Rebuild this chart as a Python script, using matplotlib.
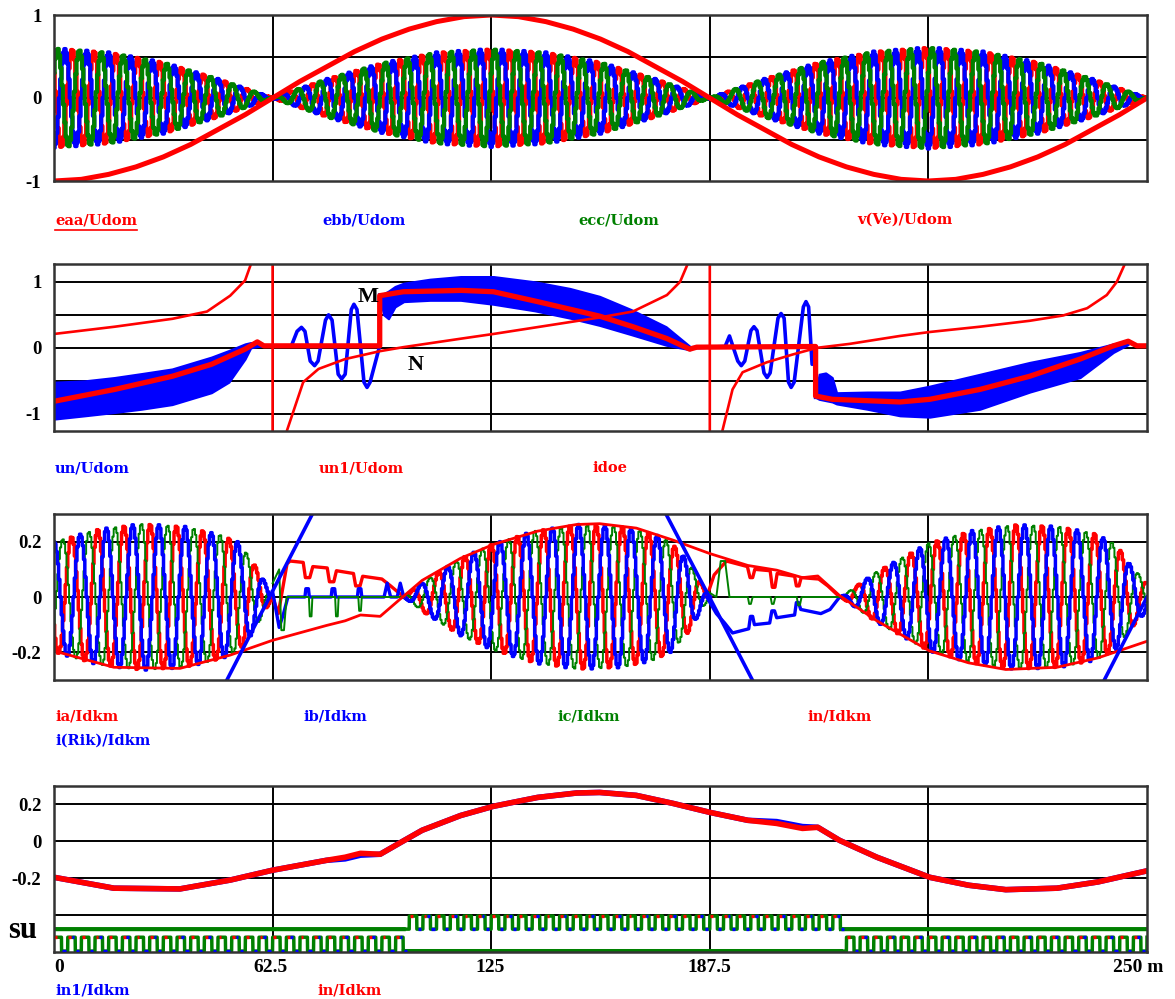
import numpy as np
import matplotlib
matplotlib.use('Agg')
import matplotlib.pyplot as plt

W, H = 1175, 999
RED, BLUE, GREEN = '#ff0000', '#0000ff', '#008000'
SERIF = 'Liberation Serif'
LAB = 'DejaVu Serif'

# ---------- panel 1 : eaa, ebb, ecc, v(Ve) ----------
t_v = [0, 6.25, 12.5, 18.75, 25, 31.25, 37.5, 43.75, 50, 56.25, 62.5, 68.75, 75, 81.25,
       87.5, 93.75, 100, 106.25, 112.5, 118.75, 125, 131.25, 137.5, 143.75, 150,
       156.25, 162.5, 168.75, 175, 181.25, 187.5, 193.75, 200, 206.25, 212.5, 218.75,
       225, 231.25, 237.5, 243.75, 250]
v_ve = [-1.0, -0.98, -0.92, -0.83, -0.71, -0.56, -0.38, -0.2, 0.0, 0.2, 0.38, 0.56, 0.71,
        0.83, 0.92, 0.98, 1.0, 0.98, 0.92, 0.83, 0.71, 0.56, 0.38, 0.2, 0.0, -0.2, -0.38,
        -0.56, -0.71, -0.83, -0.92, -0.98, -1.0, -0.98, -0.92, -0.83, -0.71, -0.56, -0.38,
        -0.2, 0.0]
t_env = [0, 12.5, 25, 37.5, 50, 62.5, 75, 87.5, 100, 112.5, 125, 137.5, 150,
         162.5, 175, 187.5, 200, 212.5, 225, 237.5, 250]
env_e = [0.6, 0.55, 0.43, 0.23, 0.0, 0.23, 0.42, 0.55, 0.59, 0.55, 0.43, 0.23, 0.0,
         0.23, 0.43, 0.56, 0.61, 0.56, 0.43, 0.23, 0.0]
period_e = 5.0          # ms, carrier of eaa/ebb/ecc
phase_e = {'a': 150, 'b': 270, 'c': 30}

# ---------- panel 2 : un, un1, idoe ----------
t_un1 = [0, 13.9, 27.1, 36.0, 43.7, 46.5, 48.0, 74.5, 74.5, 79.9, 93.2, 100.5, 110.6,
         124.8, 132.4, 140.2, 145.4, 147.0, 174.2, 174.2, 178.0, 193.5, 200.3, 211.8,
         223.2, 234.7, 242.3, 245.7, 247.7, 250]
un1 = [-0.81, -0.63, -0.43, -0.25, -0.02, 0.09, 0.03, 0.03, 0.79, 0.85, 0.87, 0.85, 0.7,
       0.48, 0.32, 0.14, -0.02, 0.01, 0.02, -0.73, -0.78, -0.82, -0.78, -0.63,
       -0.43, -0.17, 0.03, 0.1, 0.03, 0.03]

t_idoe = [0, 13.9, 27.1, 35.0, 40.3, 43.7, 45.1, 47.0, 50.0, 50.0, 52.0, 53.3, 57.0,
          60.5, 66.6, 74.6, 79.9, 93.2, 100.5, 124.8, 132.4, 140.2, 143.2, 145.0,
          147.0, 150.0, 150.0, 152.0, 152.9, 155.2, 157.5, 163.0, 169.0, 174.5,
          182.0, 193.5, 200.3, 211.8, 223.2, 230.8, 236.3, 240.8, 243.1, 245.0,
          247.0, 250.0]
idoe = [0.21, 0.32, 0.44, 0.55, 0.79, 1.02, 1.28, 2.5, 40, -40, -2.5, -1.25, -0.52,
        -0.32, -0.17, -0.05, 0.01, 0.14, 0.21, 0.46, 0.55, 0.8, 1.0, 1.28,
        2.5, 40, -40, -2.5, -1.25, -0.63, -0.37, -0.22, -0.1, 0.0,
        0.06, 0.18, 0.24, 0.32, 0.41, 0.49, 0.6, 0.8, 1.0, 1.28,
        2.5, 5]

# un ripple band envelopes and the oscillating parts
t_b1 = [0, 7, 13.8, 20, 27, 36, 40, 43.7, 45, 47.5]
up_b1 = [-0.52, -0.5, -0.45, -0.39, -0.32, -0.14, -0.04, 0.06, 0.08, 0.06]
lo_b1 = [-1.08, -1.03, -0.98, -0.93, -0.86, -0.68, -0.52, -0.17, 0.0, 0.03]
t_b3 = [74.5, 75.4, 76.5, 78, 80, 86, 93, 100.5, 110, 118, 124.8, 132, 140, 145.5]
up_b3 = [0.8, 0.82, 0.86, 0.93, 0.98, 1.04, 1.08, 1.08, 1.0, 0.9, 0.78, 0.58, 0.32, 0.02]
lo_b3 = [0.75, 0.5, 0.44, 0.62, 0.7, 0.72, 0.72, 0.66, 0.56, 0.45, 0.34, 0.2, 0.04, -0.03]
t_b5 = [174.2, 175.0, 176.5, 178.0, 179, 186, 193.5, 200.3, 211.8, 223.2, 234.7, 242.3, 245.7]
up_b5 = [-0.7, -0.4, -0.38, -0.45, -0.68, -0.67, -0.67, -0.58, -0.4, -0.22, -0.07, 0.06, 0.1]
lo_b5 = [-0.75, -0.78, -0.8, -0.82, -0.85, -0.93, -1.03, -1.05, -0.93, -0.67, -0.45, -0.07, 0.05]
t_osc2 = [47.5, 54.3, 55.6, 56.6, 57.4, 58.6, 59.6, 60.4, 62.1, 62.8, 63.6, 65.0, 65.8,
          66.6, 68.0, 68.6, 69.3, 70.9, 71.6, 72.3, 74.5, 74.5]
osc2 = [0.03, 0.03, 0.25, 0.31, 0.25, -0.2, -0.27, -0.2, 0.42, 0.5, 0.42, -0.4, -0.47,
        -0.4, 0.58, 0.66, 0.58, -0.52, -0.6, -0.52, 0.03, 0.8]
t_osc4 = [145.5, 153.5, 154.5, 156.4, 157.2, 158.0, 159.4, 160.1, 160.8, 162.4, 163.1,
          163.8, 165.6, 166.3, 167.0, 168.0, 168.6, 169.3, 171.4, 172.0, 172.6, 173.4,
          174.2, 174.2]
osc4 = [0.0, 0.02, 0.18, -0.2, -0.27, -0.2, 0.26, 0.32, 0.26, -0.38, -0.45, -0.38, 0.45,
        0.52, 0.45, -0.52, -0.6, -0.52, 0.62, 0.7, 0.62, -0.25, 0.02, -0.75]

# ---------- panel 3 / 4 : in, in1, ia, ib, ic, i(Rik) ----------
t_in = [0, 13.7, 28.8, 40.3, 49.9, 62.3, 66.6, 70.1, 74.6, 79.0, 84.2, 93.0, 100.5,
        110.6, 119.5, 124.8, 133.2, 141.7, 150.0, 158.7, 165.3, 171.2, 174.7, 179.7,
        188.2, 200.3, 209.2, 217.7, 229.4, 238.8, 250.0]
in_v = [-0.195, -0.254, -0.258, -0.21, -0.157, -0.103, -0.086, -0.065, -0.07, -0.01,
        0.06, 0.14, 0.19, 0.238, 0.262, 0.265, 0.249, 0.205, 0.157, 0.114, 0.097,
        0.07, 0.076, 0.005, -0.086, -0.195, -0.238, -0.262, -0.254, -0.22, -0.16]
in1_v = [-0.195, -0.254, -0.258, -0.21, -0.157, -0.103, -0.095, -0.075, -0.07, -0.01,
         0.06, 0.14, 0.19, 0.238, 0.262, 0.265, 0.249, 0.205, 0.157, 0.114, 0.107,
         0.08, 0.076, 0.005, -0.086, -0.195, -0.238, -0.262, -0.254, -0.22, -0.16]

t_amp3 = [0, 10, 20, 30, 38, 42, 45, 48, 50, 80, 85, 93, 100, 110, 120, 130, 137, 141,
          145, 148, 150, 180, 188, 200, 210, 220, 230, 238, 243, 246, 250]
amp3 = [0.2, 0.245, 0.265, 0.255, 0.225, 0.2, 0.14, 0.06, 0.0, 0.0, 0.06, 0.14, 0.19,
        0.24, 0.262, 0.255, 0.23, 0.2, 0.13, 0.05, 0.0, 0.0, 0.09, 0.195, 0.24, 0.262,
        0.255, 0.23, 0.19, 0.12, 0.05]
period_i = 6.0
phase_i = {'a': 210, 'b': 90, 'c': -30}
gaps = [(50, 80), (150, 180)]

t_ia1 = [50.0, 51.3, 53.3, 54.0, 57.0, 57.5, 58.5, 59.2, 62.5, 63.0, 64.0, 64.6, 68.5,
         69.0, 70.0, 70.6, 75.0, 77.0, 80.0]
ia1 = [0.0, -0.06, 0.12, 0.13, 0.125, 0.07, 0.07, 0.11, 0.105, 0.055, 0.055, 0.095,
       0.085, 0.04, 0.04, 0.075, 0.065, 0.04, 0.0]
t_ib1 = [50, 51.5, 52.5, 53.5, 57.4, 57.6, 58.2, 58.4, 63.4, 63.6, 64.2, 64.4, 69.4,
         69.6, 70.2, 70.4, 75.5, 76.2, 77, 78.5, 79.2, 80]
ib1 = [0.02, -0.11, -0.06, 0.0, 0.0, 0.03, 0.03, 0.0, 0.0, 0.03, 0.03, 0.0, 0.0,
       0.03, 0.03, 0.0, 0.0, 0.05, 0.0, 0.0, 0.05, 0.0]
t_ic1 = [50, 51.5, 52.0, 52.6, 53.2, 58.3, 58.5, 58.9, 59.1, 64.3, 64.5, 64.9, 65.1,
         69.6, 69.8, 70.2, 70.4, 80]
ic1 = [0.05, 0.1, -0.12, -0.12, 0.0, 0.0, -0.07, -0.07, 0.0, 0.0, -0.07, -0.07, 0.0,
       0.0, -0.05, -0.05, 0.0, 0.0]
t_ia2 = [149.3, 151, 153.8, 158.6, 159.2, 159.8, 160.3, 163.8, 164.3, 164.9, 165.4,
         169.4, 169.8, 170.4, 170.9, 174.9, 177, 179.7]
ia2 = [0.0, 0.08, 0.13, 0.11, 0.07, 0.07, 0.1, 0.095, 0.035, 0.035, 0.085, 0.075,
       0.04, 0.04, 0.07, 0.065, 0.04, 0.0]
t_ib2 = [149.3, 151.5, 153.4, 155.2, 158.9, 159.3, 159.8, 160.2, 163.7, 164.2, 164.8,
         165.3, 169.4, 169.8, 170.3, 170.8, 175.4, 177.5, 179.7]
ib2 = [0.0, -0.06, -0.094, -0.13, -0.115, -0.07, -0.07, -0.1, -0.094, -0.05, -0.05,
       -0.075, -0.065, -0.02, -0.02, -0.045, -0.06, -0.045, 0.0]
t_ic2 = [149.5, 151.5, 152.5, 153.5, 154.5, 158.7, 159.0, 159.4, 159.8, 163.9, 164.2,
         164.6, 165.0, 169.9, 170.2, 170.6, 171.0, 176, 179.7]
ic2 = [0.02, 0.0, 0.13, 0.13, 0.0, 0.0, -0.025, -0.025, 0.0, 0.0, -0.025, -0.025, 0.0,
       0.0, -0.03, -0.03, 0.0, 0.0, 0.0]

t_rik = [35, 49.3, 64, 136, 149.9, 164, 236, 250]
rik = [-0.44, 0.0, 0.45, 0.42, 0.0, -0.43, -0.43, 0.0]

# su switching signals: (start, stop) of active pulse trains
su_upper_on = [(80, 180)]
su_lower_on = [(0, 80), (180, 250)]
su_upper_lv = (-0.476, -0.405)
su_lower_lv = (-0.595, -0.52)
period_su = 3.125

xlabels = ['0', '62.5', '125', '187.5', '250 m']
xlabel_px = [59, 271, 490, 709, 1138]

fig = plt.figure(figsize=(W / 100, H / 100), dpi=100)


def make_ax(l, t, r, b, ylim, hgrid, yt, ytl):
    ax = fig.add_axes([l / W, 1 - b / H, (r - l) / W, (b - t) / H])
    ax.set_xlim(0, 250)
    ax.set_ylim(*ylim)
    for y in hgrid:
        ax.axhline(y, color='black', lw=1.4, zorder=0.5)
    for x in [50, 100, 150, 200]:
        ax.axvline(x, color='black', lw=1.4, zorder=0.5)
    ax.set_xticks([])
    ax.set_yticks(yt)
    ax.set_yticklabels(ytl, fontfamily=SERIF, fontweight='bold', fontsize=13.5)
    ax.tick_params(axis='y', length=0, pad=9)
    for s in ax.spines.values():
        s.set_linewidth(1.8)
        s.set_color('#333333')
    return ax


def label(x, y, s, c):
    fig.text(x / W, 1 - y / H, s, color=c, ha='left', va='center', family=LAB,
             fontweight='bold', fontsize=10.5)


# panel 1
ax1 = make_ax(54, 15, 1147, 181, (-1, 1), [-0.5, 0, 0.5], [1, 0, -1], ['1', '0', '-1'])
t1 = np.arange(0, 250.001, period_e / 16)
amp1 = np.interp(t1, t_env, env_e)
for key, c in [('a', RED), ('b', BLUE), ('c', GREEN)]:
    ax1.plot(t1, amp1 * np.sin(2 * np.pi * t1 / period_e + np.radians(phase_e[key])),
             color=c, lw=3.0, drawstyle='steps-mid')
ax1.plot(t_v, v_ve, color=RED, lw=3.6)

# panel 2
ax2 = make_ax(54, 264, 1147, 431, (-1.26, 1.27), [-1, -0.5, 0, 0.5, 1], [1, 0, -1],
              ['1', '0', '-1'])
for tb, lo, up in [(t_b1, lo_b1, up_b1), (t_b3, lo_b3, up_b3), (t_b5, lo_b5, up_b5)]:
    ax2.fill_between(tb, lo, up, color=BLUE, lw=1.5, edgecolor=BLUE)
ax2.plot(t_osc2, osc2, color=BLUE, lw=2.6)
ax2.plot(t_osc4, osc4, color=BLUE, lw=2.6)
ax2.plot(t_idoe, idoe, color=RED, lw=1.9)
ax2.plot(t_un1, un1, color=RED, lw=3.8)
fig.text(368 / W, 1 - 297 / H, 'M', ha='center', va='center', family=SERIF,
         fontweight='bold', fontsize=16)
fig.text(416 / W, 1 - 365 / H, 'N', ha='center', va='center', family=SERIF,
         fontweight='bold', fontsize=16)

# panel 3
ax3 = make_ax(54, 514, 1147, 680, (-0.3, 0.3), [-0.2, 0, 0.2], [0.2, 0, -0.2],
              ['0.2', '0', '-0.2'])
t3 = np.arange(0, 250.001, period_i / 20)
amp = np.interp(t3, t_amp3, amp3)
in_gap = np.zeros_like(t3, dtype=bool)
for a, b in gaps:
    in_gap |= (t3 > a) & (t3 < b)
for key, c, lw in [('a', RED, 2.5), ('c', GREEN, 1.4), ('b', BLUE, 2.5)]:
    y = amp * np.sin(2 * np.pi * t3 / period_i + np.radians(phase_i[key]))
    y[in_gap] = np.nan
    ax3.plot(t3, y, color=c, lw=lw, drawstyle='steps-mid')
ax3.plot(t_ia1, ia1, color=RED, lw=2.4)
ax3.plot(t_ia2, ia2, color=RED, lw=2.4)
ax3.plot(t_ib1, ib1, color=BLUE, lw=2.4)
ax3.plot(t_ib2, ib2, color=BLUE, lw=2.4)
ax3.plot(t_ic1, ic1, color=GREEN, lw=1.4)
ax3.plot(t_ic2, ic2, color=GREEN, lw=1.4)
ax3.plot(t_in, in_v, color=RED, lw=2.0)
ax3.plot(t_rik, rik, color=BLUE, lw=2.6)

# panel 4
ax4 = make_ax(54, 786, 1147, 952, (-0.6, 0.3), [-0.4, -0.2, 0, 0.2], [0.2, 0, -0.2],
              ['0.2', '0', '-0.2'])
ax4.plot(t_in, in1_v, color=BLUE, lw=4.0)
ax4.plot(t_in, in_v, color=RED, lw=4.0)


def su_row(ax, on, lv):
    lo, hi = lv
    P = period_su
    tt = np.arange(0, 250.001, 0.02)
    active = np.zeros_like(tt, dtype=bool)
    for a, b in on:
        active |= (tt >= a) & (tt <= b)
    high = (tt % P) < 0.55 * P
    y = np.where(active, np.where(high, hi, lo), np.nan)
    ax.plot(tt, y, color=GREEN, lw=2.5)
    ax.plot(tt, np.where(active, np.nan, lo), color=GREEN, lw=3.0)
    # coloured dashes on the pulse edges
    for a, b in on:
        starts = np.arange(np.ceil(a / P) * P, b - 0.5 * P, P)
        odd = starts[1::2]
        ax.hlines(np.full(len(starts), hi), starts + 0.05 * P, starts + 0.25 * P,
                  color=RED, lw=2.4, zorder=3)
        ax.hlines(np.full(len(odd), hi), odd + 0.3 * P, odd + 0.5 * P,
                  color=BLUE, lw=2.4, zorder=3)
        ax.hlines(np.full(len(starts), lo), starts + 0.62 * P, starts + 0.85 * P,
                  color=BLUE, lw=2.4, zorder=3)


su_row(ax4, su_upper_on, su_upper_lv)
su_row(ax4, su_lower_on, su_lower_lv)

fig.text(23 / W, 1 - 938 / H, 'su', ha='center', va='baseline', family=SERIF,
         fontweight='bold', fontsize=22)
for s, xp in zip(xlabels, xlabel_px):
    fig.text(xp / W, 1 - 968 / H, s, ha='center', va='center', family=SERIF,
             fontweight='bold', fontsize=14)

# legend rows
label(55, 220, 'eaa/Udom', RED)
fig.add_artist(plt.Line2D([55 / W, 137 / W], [1 - 230 / H, 1 - 230 / H], color=RED, lw=1.2))
label(322, 220, 'ebb/Udom', BLUE)
label(578, 220, 'ecc/Udom', GREEN)
label(857, 220, 'v(Ve)/Udom', RED)
label(55, 468, 'un/Udom', BLUE)
label(319, 468, 'un1/Udom', RED)
label(592, 468, 'idoe', RED)
label(55, 717, 'ia/Idkm', RED)
label(303, 717, 'ib/Idkm', BLUE)
label(557, 717, 'ic/Idkm', GREEN)
label(807, 717, 'in/Idkm', RED)
label(55, 741, 'i(Rik)/Idkm', BLUE)
label(55, 990, 'in1/Idkm', BLUE)
label(317, 990, 'in/Idkm', RED)

fig.savefig('out.png', dpi=100)
